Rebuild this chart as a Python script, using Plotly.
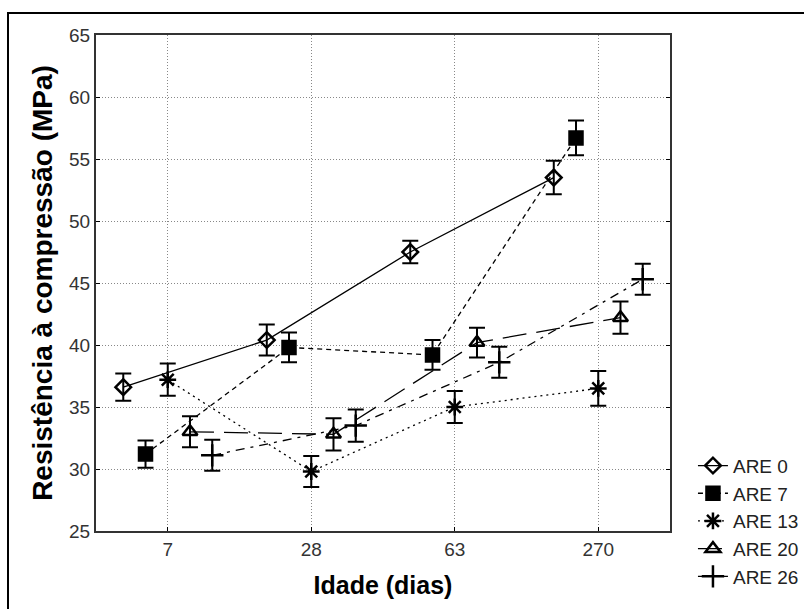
import plotly.graph_objects as go

# Compressive strength (MPa) by curing age, for each ARE content
ages = ["7", "28", "63", "270"]
series_names = ["ARE 0", "ARE 7", "ARE 13", "ARE 20", "ARE 26"]

are0 = [36.6, 40.4, 47.5, 53.5]
are7 = [31.2, 39.8, 39.2, 56.7]
are13 = [37.2, 29.8, 35.0, 36.5]
are20 = [33.0, 32.8, 40.2, 42.2]
are26 = [31.1, 33.5, 38.6, 45.3]

err0 = [1.1, 1.25, 0.9, 1.35]
err7 = [1.1, 1.2, 1.2, 1.4]
err13 = [1.3, 1.25, 1.3, 1.4]
err20 = [1.25, 1.3, 1.2, 1.3]
err26 = [1.25, 1.3, 1.25, 1.25]

values = [are0, are7, are13, are20, are26]
errors = [err0, err7, err13, err20, err26]

# Horizontal dodge inside each age group, plus styling per series
offsets = [-0.31, -0.155, 0.0, 0.155, 0.31]
symbols = ["diamond-open", "square", "asterisk-open", "triangle-up-open", "cross-thin-open"]
msizes = [12, 13, 14, 13, 16]
dashes = ["solid", "5px,4px", "2px,4px", "24px,10px", "9px,6px,3px,6px"]

fig = go.Figure()
for name, ys, es, off, sym, ms, dash in zip(series_names, values, errors, offsets,
                                             symbols, msizes, dashes):
    xs = [i + off for i in range(len(ages))]
    fig.add_trace(go.Scatter(
        x=xs, y=ys, name=name, mode="lines+markers",
        line=dict(color="black", width=1.3, dash=dash),
        marker=dict(symbol=sym, size=ms, color="black",
                    line=dict(color="black", width=2.5)),
        error_y=dict(type="data", array=es, visible=True, color="black",
                     thickness=2, width=8),
    ))

tick_font = dict(family="Liberation Sans, Arial", size=19, color="#333")
legend_font = dict(family="Liberation Sans, Arial", size=19, color="#222")

fig.update_layout(
    width=804, height=609,
    margin=dict(l=96, r=134, t=35, b=78, autoexpand=False),
    paper_bgcolor="white", plot_bgcolor="white",
    showlegend=True,
    legend=dict(x=1.04, y=0.17, xanchor="left", yanchor="top",
                font=legend_font, bgcolor="rgba(0,0,0,0)",
                tracegroupgap=0, itemwidth=30),
    shapes=[dict(type="rect", xref="paper", yref="paper",
                 x0=-88 / 574, x1=1.3, y0=-0.3, y1=1 + 22 / 496,
                 line=dict(color="black", width=2))],
)

fig.update_xaxes(
    range=[-0.5, 3.5], tickvals=list(range(len(ages))), ticktext=ages,
    tickfont=tick_font, ticks="inside", ticklen=4, tickcolor="black",
    showgrid=True, gridcolor="#888", griddash="1px,2px", gridwidth=1,
    showline=True, linecolor="#333", linewidth=2, mirror=True,
    zeroline=False,
    title=dict(text="<b>Idade (dias)</b>",
               font=dict(family="Liberation Sans, Arial", size=25, color="black"),
               standoff=18),
)
fig.update_yaxes(
    range=[25, 65], dtick=5,
    tickfont=tick_font, ticks="inside", ticklen=4, tickcolor="black",
    showgrid=True, gridcolor="#888", griddash="1px,2px", gridwidth=1,
    showline=True, linecolor="#333", linewidth=2, mirror="ticks",
    zeroline=False,
    title=dict(text="<b>Resistência à compressão (MPa)</b>",
               font=dict(family="Liberation Sans, Arial", size=28, color="black"),
               standoff=8),
)

fig.write_html("out.html")
